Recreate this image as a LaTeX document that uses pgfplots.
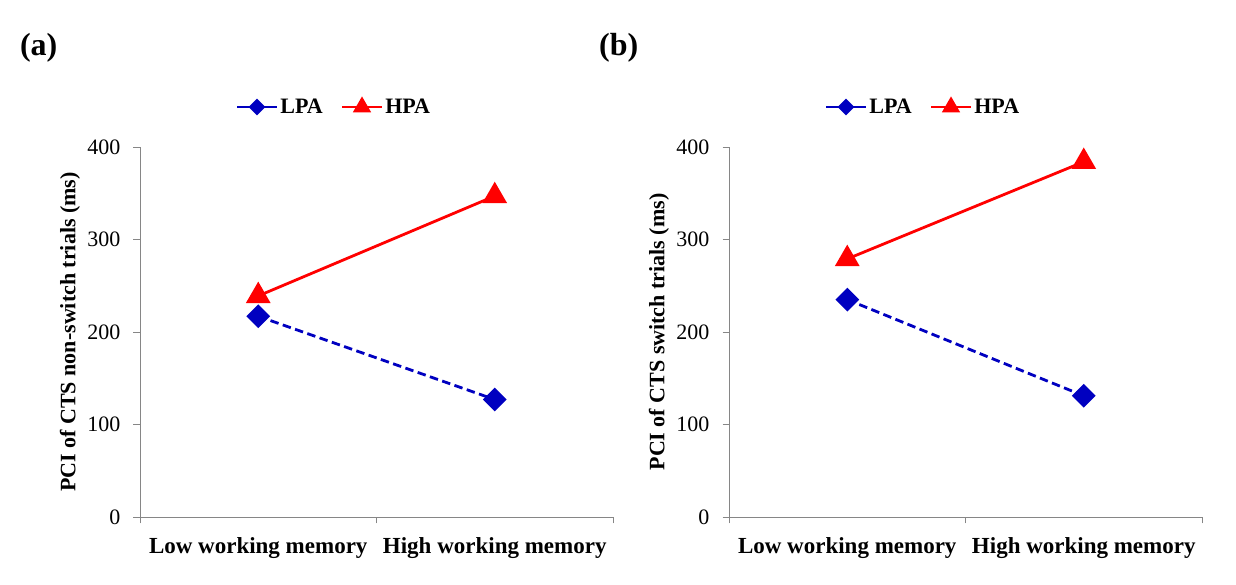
\documentclass[border=0pt]{standalone}
\usepackage{pgfplots}
\pgfplotsset{compat=1.18}
\usepackage{fontspec}
\setmainfont{Liberation Serif}
\definecolor{lpablue}{RGB}{0,0,192}
\definecolor{hpared}{RGB}{255,0,0}
\definecolor{axgray}{RGB}{134,134,134}
\pgfplotsset{
  panel/.style={
    scale only axis, width=473pt, height=370pt,
    xmin=0, xmax=2, ymin=0, ymax=400,
    axis x line*=bottom, axis y line*=left,
    axis line style={draw=axgray, line width=0.9pt, -},
    tick style={draw=axgray, line width=0.9pt},
    tick align=outside, major tick length=6.5pt,
    ytick={0,100,200,300,400},
    yticklabel style={font=\fontsize{22}{26}\selectfont, inner sep=0pt, xshift=-13pt},
    /pgf/number format/assume math mode=true,
    xtick={0,1,2}, xticklabels={},
    extra x ticks={0.5,1.5},
    extra x tick labels={Low working memory, High working memory},
    extra x tick style={major tick length=0pt, tick style={draw=none},
      tick label style={font=\bfseries\fontsize{23}{27}\selectfont, inner sep=0pt, anchor=north, yshift=-20pt}},
    ylabel style={font=\bfseries\fontsize{22}{26}\selectfont, at={(axis description cs:-0.148,0.5)}, anchor=center},
    clip=false,
    legend style={draw=none, fill=none, inner sep=0pt, legend columns=2,
      font=\bfseries\fontsize{22}{26}\selectfont,
      /tikz/every even column/.style={column sep=16pt},
      at={(axis description cs:0.41,1.108)}, anchor=center,
      legend image code/.code={\draw[mark repeat=2,mark phase=2,#1] plot coordinates {(0pt,0pt) (20pt,0pt) (40pt,0pt)};}},
    lpa/.style={color=lpablue, line width=2.8pt, dash pattern=on 8.5pt off 4.5pt, mark=square*, mark size=7pt, mark options={solid, rotate=45, fill=lpablue}},
    hpa/.style={color=hpared, line width=2.8pt, mark=triangle*, mark size=11.5pt, mark options={solid, fill=hpared}},
  }
}
\begin{document}
\begin{tikzpicture}
\begin{axis}[panel, at={(140pt,68pt)}, anchor=south west,
  ylabel={PCI of CTS non-switch trials (ms)}]
\addlegendimage{color=lpablue, line width=2.6pt, mark=square*, mark size=4.6pt, mark options={rotate=45, fill=lpablue}}
\addlegendentry{LPA}
\addlegendimage{color=hpared, line width=2.6pt, mark=triangle*, mark size=8pt, mark options={fill=hpared}}
\addlegendentry{HPA}
\addplot[lpa, forget plot] coordinates {(0.5,217) (1.5,127)};
\addplot[hpa, forget plot] coordinates {(0.5,239) (1.5,347)};
\node[anchor=west, inner sep=0pt, font=\bfseries\fontsize{32}{36}\selectfont] at (axis description cs:-0.254,1.268) {(a)};
\end{axis}
\begin{axis}[panel, at={(729pt,68pt)}, anchor=south west,
  ylabel={PCI of CTS switch trials (ms)}]
\addlegendimage{color=lpablue, line width=2.6pt, mark=square*, mark size=4.6pt, mark options={rotate=45, fill=lpablue}}
\addlegendentry{LPA}
\addlegendimage{color=hpared, line width=2.6pt, mark=triangle*, mark size=8pt, mark options={fill=hpared}}
\addlegendentry{HPA}
\addplot[lpa, forget plot] coordinates {(0.5,235) (1.5,131)};
\addplot[hpa, forget plot] coordinates {(0.5,279) (1.5,384)};
\node[anchor=west, inner sep=0pt, font=\bfseries\fontsize{32}{36}\selectfont] at (axis description cs:-0.275,1.268) {(b)};
\end{axis}
\pgfresetboundingbox
\useasboundingbox (0,0) rectangle (1236pt,585pt);
\end{tikzpicture}
\end{document}
